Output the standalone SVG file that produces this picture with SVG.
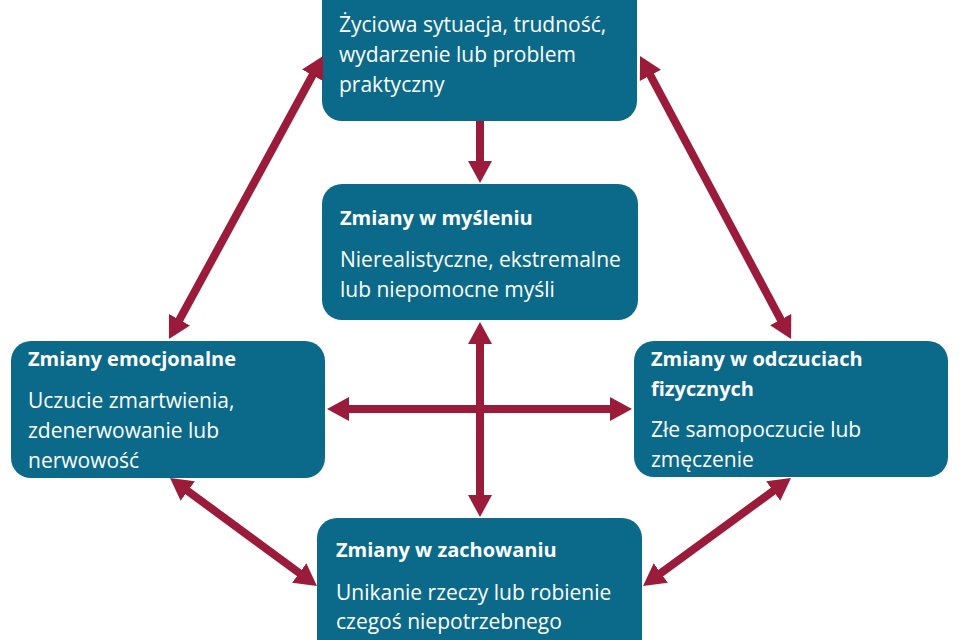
<svg xmlns="http://www.w3.org/2000/svg" width="960" height="640" viewBox="0 0 960 640">
<style>
.box{fill:#0b6a8a}
.t{font-family:"Open Sans","Liberation Sans",sans-serif;fill:#ffffff}
.b{font-size:20px;font-weight:bold}
.r{font-size:21px}
.c{stroke:#9b1b3b;stroke-width:8;fill:none}
</style>
<defs>
<marker id="ah" viewBox="0 0 22 24" refX="10" refY="12" markerWidth="22" markerHeight="24" markerUnits="userSpaceOnUse" orient="auto-start-reverse">
<path d="M0,0 L22,12 L0,24 z" fill="#9b1b3b"/>
</marker>
</defs>
<rect width="960" height="640" fill="#ffffff"/>
<g id="node-top">
<rect class="box" x="322" y="-20" width="315" height="141" rx="20"/>
<text class="t r" x="339" y="32">Życiowa sytuacja, trudność,</text>
<text class="t r" x="339" y="62">wydarzenie lub problem</text>
<text class="t r" x="339" y="92">praktyczny</text>
</g>
<g id="node-thinking">
<rect class="box" x="322" y="184" width="316" height="136" rx="20"/>
<text class="t b" x="340" y="225">Zmiany w myśleniu</text>
<text class="t r" x="340" y="267">Nierealistyczne, ekstremalne</text>
<text class="t r" x="340" y="297">lub niepomocne myśli</text>
</g>
<g id="node-emotions">
<rect class="box" x="11" y="341" width="314" height="137" rx="20"/>
<text class="t b" x="28" y="366">Zmiany emocjonalne</text>
<text class="t r" x="28" y="408">Uczucie zmartwienia,</text>
<text class="t r" x="28" y="438">zdenerwowanie lub</text>
<text class="t r" x="28" y="468">nerwowość</text>
</g>
<g id="node-physical">
<rect class="box" x="634" y="341" width="314" height="136" rx="20"/>
<text class="t b" x="651" y="366">Zmiany w odczuciach</text>
<text class="t b" x="651" y="396">fizycznych</text>
<text class="t r" x="651" y="437">Złe samopoczucie lub</text>
<text class="t r" x="651" y="467">zmęczenie</text>
</g>
<g id="node-behaviour">
<rect class="box" x="317" y="518" width="325" height="140" rx="20"/>
<text class="t b" x="336" y="557">Zmiany w zachowaniu</text>
<text class="t r" x="336" y="600">Unikanie rzeczy lub robienie</text>
<text class="t r" x="336" y="629">czegoś niepotrzebnego</text>
</g>
<g id="connectors">
<line class="c" x1="480" y1="121" x2="480" y2="171" marker-end="url(#ah)"/>
<line class="c" x1="174.7" y1="328.5" x2="317.3" y2="66.5" marker-start="url(#ah)" marker-end="url(#ah)"/>
<line class="c" x1="645.7" y1="66.6" x2="785.4" y2="328.4" marker-start="url(#ah)" marker-end="url(#ah)"/>
<line class="c" x1="339" y1="409" x2="620" y2="409" marker-start="url(#ah)" marker-end="url(#ah)"/>
<line class="c" x1="480" y1="334" x2="480" y2="505" marker-start="url(#ah)" marker-end="url(#ah)"/>
<line class="c" x1="179.7" y1="485.1" x2="307.3" y2="578.9" marker-start="url(#ah)" marker-end="url(#ah)"/>
<line class="c" x1="781.3" y1="485.1" x2="652.7" y2="578.9" marker-start="url(#ah)" marker-end="url(#ah)"/>
</g>
</svg>
